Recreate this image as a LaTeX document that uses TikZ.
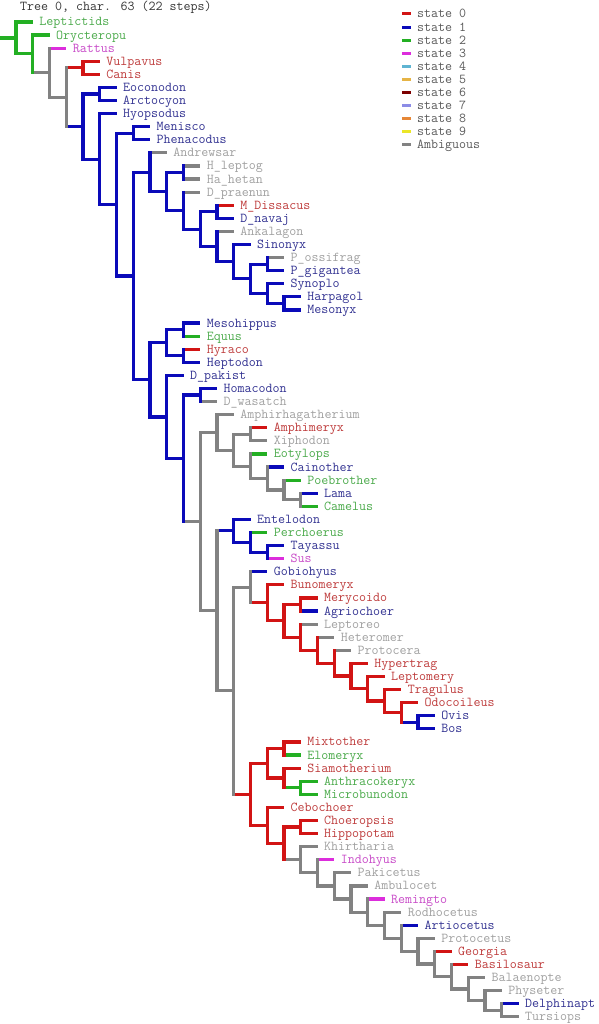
\documentclass[tikz,border=0pt]{standalone}
\usepackage{fontspec}
\usepackage{tikz}
\usetikzlibrary{calc}

\definecolor{st0}{RGB}{210,20,20}
\definecolor{st1}{RGB}{10,10,185}
\definecolor{st2}{RGB}{35,175,35}
\definecolor{st3}{RGB}{220,45,220}
\definecolor{st4}{RGB}{95,180,210}
\definecolor{st5}{RGB}{230,180,70}
\definecolor{st6}{RGB}{125,0,0}
\definecolor{st7}{RGB}{140,140,230}
\definecolor{st8}{RGB}{230,135,55}
\definecolor{st9}{RGB}{235,230,40}
\definecolor{sta}{RGB}{130,130,130}
\definecolor{tx0}{RGB}{190,60,60}
\definecolor{tx1}{RGB}{50,50,145}
\definecolor{tx2}{RGB}{75,170,75}
\definecolor{tx3}{RGB}{200,75,200}
\definecolor{txa}{RGB}{160,160,160}
\definecolor{txk}{RGB}{90,90,90}

% leaf: name, depth of tip, row, state, label
\newcommand\tleaf[5]{%
  \coordinate (#1) at ({16+#2*16.75},{22+(#3-1)*13.09});
  \draw[s#4] ([xshift=-16.75pt]#1) -- (#1);
  \node[lbl,l#4] (t#1) at ([xshift=6.5pt,yshift=-4pt]#1) {#5};
}
% clade: name, depth, first child, last child, state
\newcommand\tnode[5]{%
  \path let \p1=(#3), \p2=(#4) in ({16pt+#2*16.75pt},{0.5*\y1+0.5*\y2}) coordinate (#1);
  \draw[s#5] ([xshift=-16.75pt]#1) -- (#1);
  \draw[s#5,line cap=rect] (#3 -| #1) -- (#4 -| #1);
}

\begin{document}
\begin{tikzpicture}[x=1pt,y=-1pt,font=\ttfamily\fontsize{13.6}{14}\selectfont,
    s0/.style={draw=st0,line width=3.2pt}, s1/.style={draw=st1,line width=3.2pt},
    s2/.style={draw=st2,line width=3.2pt}, s3/.style={draw=st3,line width=3.2pt},
    sa/.style={draw=sta,line width=3.2pt},
    l0/.style={text=tx0}, l1/.style={text=tx1}, l2/.style={text=tx2},
    l3/.style={text=tx3}, la/.style={text=txa},
    lbl/.style={anchor=base west,inner sep=0pt}]
  \useasboundingbox (0,0) rectangle (598,1024);
  \node[lbl,text=txk!60!black] (title) at (20,10.5) {Tree 0, char. 63 (22 steps)};

  \tleaf{lep}{1}{1}{2}{Leptictids}
  \tleaf{ory}{2}{2}{2}{Orycteropu}
  \tleaf{rat}{3}{3}{3}{Rattus}
  \tleaf{vul}{5}{4}{0}{Vulpavus}
  \tleaf{can}{5}{5}{0}{Canis}
  \tnode{vc}{4}{vul}{can}{0}
  \tleaf{eoc}{6}{6}{1}{Eoconodon}
  \tleaf{arc}{6}{7}{1}{Arctocyon}
  \tnode{ea}{5}{eoc}{arc}{1}
  \tleaf{hyo}{6}{8}{1}{Hyopsodus}
  \tleaf{men}{8}{9}{1}{Menisco}
  \tleaf{phe}{8}{10}{1}{Phenacodus}
  \tnode{mp}{7}{men}{phe}{1}
  \tleaf{adw}{9}{11}{a}{Andrewsar}
  \tleaf{hle}{11}{12}{a}{H\_leptog}
  \tleaf{hhe}{11}{13}{a}{Ha\_hetan}
  \tnode{hh}{10}{hle}{hhe}{1}
  \tleaf{dpr}{11}{14}{a}{D\_praenun}
  \tleaf{mdi}{13}{15}{0}{M\_Dissacus}
  \tleaf{dna}{13}{16}{1}{D\_navaj}
  \tnode{md}{12}{mdi}{dna}{1}
  \tleaf{ank}{13}{17}{a}{Ankalagon}
  \tleaf{snx}{14}{18}{1}{Sinonyx}
  \tleaf{pos}{16}{19}{a}{P\_ossifrag}
  \tleaf{pgi}{16}{20}{1}{P\_gigantea}
  \tnode{pp}{15}{pos}{pgi}{1}
  \tleaf{syn}{16}{21}{1}{Synoplo}
  \tleaf{har}{17}{22}{1}{Harpagol}
  \tleaf{mes}{17}{23}{1}{Mesonyx}
  \tnode{hm}{16}{har}{mes}{1}
  \tnode{shm}{15}{syn}{hm}{1}
  \tnode{pps}{14}{pp}{shm}{1}
  \tnode{snxx}{13}{snx}{pps}{1}
  \tnode{ankx}{12}{ank}{snxx}{1}
  \tnode{mdx}{11}{md}{ankx}{1}
  \tnode{dprx}{10}{dpr}{mdx}{1}
  \tnode{hhx}{9}{hh}{dprx}{1}
  \tnode{creo}{8}{adw}{hhx}{1}
  \tleaf{mso}{11}{24}{1}{Mesohippus}
  \tleaf{equ}{11}{25}{2}{Equus}
  \tnode{me}{10}{mso}{equ}{1}
  \tleaf{hyr}{11}{26}{0}{Hyraco}
  \tleaf{hep}{11}{27}{1}{Heptodon}
  \tnode{hy}{10}{hyr}{hep}{1}
  \tnode{peri}{9}{me}{hy}{1}
  \tleaf{dpa}{10}{28}{1}{D\_pakist}
  \tleaf{hom}{12}{29}{1}{Homacodon}
  \tleaf{dwa}{12}{30}{a}{D\_wasatch}
  \tnode{hd}{11}{hom}{dwa}{1}
  \tleaf{amr}{13}{31}{a}{Amphirhagatherium}
  \tleaf{amx}{15}{32}{0}{Amphimeryx}
  \tleaf{xip}{15}{33}{a}{Xiphodon}
  \tnode{ax}{14}{amx}{xip}{a}
  \tleaf{eot}{15}{34}{2}{Eotylops}
  \tleaf{cai}{16}{35}{1}{Cainother}
  \tleaf{poe}{17}{36}{2}{Poebrother}
  \tleaf{lam}{18}{37}{1}{Lama}
  \tleaf{cam}{18}{38}{2}{Camelus}
  \tnode{lc}{17}{lam}{cam}{a}
  \tnode{plc}{16}{poe}{lc}{a}
  \tnode{cpl}{15}{cai}{plc}{a}
  \tnode{ecp}{14}{eot}{cpl}{a}
  \tnode{axe}{13}{ax}{ecp}{a}
  \tnode{ama}{12}{amr}{axe}{a}
  \tleaf{ent}{14}{39}{1}{Entelodon}
  \tleaf{per}{15}{40}{2}{Perchoerus}
  \tleaf{tay}{16}{41}{1}{Tayassu}
  \tleaf{sus}{16}{42}{3}{Sus}
  \tnode{ts}{15}{tay}{sus}{1}
  \tnode{pts}{14}{per}{ts}{1}
  \tnode{suin}{13}{ent}{pts}{1}
  \tleaf{gob}{15}{43}{1}{Gobiohyus}
  \tleaf{bun}{16}{44}{0}{Bunomeryx}
  \tleaf{mer}{18}{45}{0}{Merycoido}
  \tleaf{agr}{18}{46}{1}{Agriochoer}
  \tnode{ma}{17}{mer}{agr}{0}
  \tleaf{lpt}{18}{47}{a}{Leptoreo}
  \tleaf{het}{19}{48}{a}{Heteromer}
  \tleaf{pro}{20}{49}{a}{Protocera}
  \tleaf{hyp}{21}{50}{0}{Hypertrag}
  \tleaf{lpm}{22}{51}{0}{Leptomery}
  \tleaf{tra}{23}{52}{0}{Tragulus}
  \tleaf{odo}{24}{53}{0}{Odocoileus}
  \tleaf{ovi}{25}{54}{1}{Ovis}
  \tleaf{bos}{25}{55}{1}{Bos}
  \tnode{ob}{24}{ovi}{bos}{1}
  \tnode{rum7}{23}{odo}{ob}{0}
  \tnode{rum6}{22}{tra}{rum7}{0}
  \tnode{rum5}{21}{lpm}{rum6}{0}
  \tnode{rum4}{20}{hyp}{rum5}{0}
  \tnode{rum3}{19}{pro}{rum4}{0}
  \tnode{rum2}{18}{het}{rum3}{0}
  \tnode{rum1}{17}{lpt}{rum2}{0}
  \tnode{tylo}{16}{ma}{rum1}{0}
  \tnode{bunx}{15}{bun}{tylo}{0}
  \tnode{gobx}{14}{gob}{bunx}{a}
  \tleaf{mix}{17}{56}{0}{Mixtother}
  \tleaf{elo}{17}{57}{2}{Elomeryx}
  \tnode{mxe}{16}{mix}{elo}{0}
  \tleaf{sia}{17}{58}{0}{Siamotherium}
  \tleaf{ant}{18}{59}{2}{Anthracokeryx}
  \tleaf{mic}{18}{60}{2}{Microbunodon}
  \tnode{am}{17}{ant}{mic}{2}
  \tnode{sam}{16}{sia}{am}{0}
  \tnode{anth}{15}{mxe}{sam}{0}
  \tleaf{ceb}{16}{61}{0}{Cebochoer}
  \tleaf{cho}{18}{62}{0}{Choeropsis}
  \tleaf{hip}{18}{63}{0}{Hippopotam}
  \tnode{hippo}{17}{cho}{hip}{0}
  \tleaf{khi}{18}{64}{a}{Khirtharia}
  \tleaf{ind}{19}{65}{3}{Indohyus}
  \tleaf{pak}{20}{66}{a}{Pakicetus}
  \tleaf{amb}{21}{67}{a}{Ambulocet}
  \tleaf{rem}{22}{68}{3}{Remingto}
  \tleaf{rod}{23}{69}{a}{Rodhocetus}
  \tleaf{art}{24}{70}{1}{Artiocetus}
  \tleaf{prc}{25}{71}{a}{Protocetus}
  \tleaf{geo}{26}{72}{0}{Georgia}
  \tleaf{bas}{27}{73}{0}{Basilosaur}
  \tleaf{bal}{28}{74}{a}{Balaenopte}
  \tleaf{phy}{29}{75}{a}{Physeter}
  \tleaf{del}{30}{76}{1}{Delphinapt}
  \tleaf{tur}{30}{77}{a}{Tursiops}
  \tnode{cet12}{29}{del}{tur}{a}
  \tnode{cet11}{28}{phy}{cet12}{a}
  \tnode{cet10}{27}{bal}{cet11}{a}
  \tnode{cet9}{26}{bas}{cet10}{a}
  \tnode{cet8}{25}{geo}{cet9}{a}
  \tnode{cet7}{24}{prc}{cet8}{a}
  \tnode{cet6}{23}{art}{cet7}{a}
  \tnode{cet5}{22}{rod}{cet6}{a}
  \tnode{cet4}{21}{rem}{cet5}{a}
  \tnode{cet3}{20}{amb}{cet4}{a}
  \tnode{cet2}{19}{pak}{cet3}{a}
  \tnode{cet1}{18}{ind}{cet2}{a}
  \tnode{cet0}{17}{khi}{cet1}{a}
  \tnode{whip}{16}{hippo}{cet0}{0}
  \tnode{cebx}{15}{ceb}{whip}{0}
  \tnode{ancet}{14}{anth}{cebx}{0}
  \tnode{bx}{13}{gobx}{ancet}{a}
  \tnode{sb}{12}{suin}{bx}{a}
  \tnode{artio}{11}{ama}{sb}{a}
  \tnode{hdx}{10}{hd}{artio}{1}
  \tnode{dpx}{9}{dpa}{hdx}{1}
  \tnode{ung}{8}{peri}{dpx}{1}
  \tnode{cu}{7}{creo}{ung}{1}
  \tnode{mpx}{6}{mp}{cu}{1}
  \tnode{hyx}{5}{hyo}{mpx}{1}
  \tnode{eax}{4}{ea}{hyx}{1}
  \tnode{vcx}{3}{vc}{eax}{a}
  \tnode{ratx}{2}{rat}{vcx}{a}
  \tnode{oryx}{1}{ory}{ratx}{2}
  \tnode{root}{0}{lep}{oryx}{2}

  % legend
  \draw[draw=st0,line width=3pt] (402,14) -- (411,14);
  \draw[draw=st1,line width=3pt] (402,27.1) -- (411,27.1);
  \draw[draw=st2,line width=3pt] (402,40.2) -- (411,40.2);
  \draw[draw=st3,line width=3pt] (402,53.3) -- (411,53.3);
  \draw[draw=st4,line width=3pt] (402,66.4) -- (411,66.4);
  \draw[draw=st5,line width=3pt] (402,79.5) -- (411,79.5);
  \draw[draw=st6,line width=3pt] (402,92.6) -- (411,92.6);
  \draw[draw=st7,line width=3pt] (402,105.7) -- (411,105.7);
  \draw[draw=st8,line width=3pt] (402,118.8) -- (411,118.8);
  \draw[draw=st9,line width=3pt] (402,131.9) -- (411,131.9);
  \draw[draw=sta,line width=3pt] (402,145) -- (411,145);
  \node[lbl,text=txk] (k0) at (417,18) {state 0};
  \node[lbl,text=txk] (k1) at (417,31.1) {state 1};
  \node[lbl,text=txk] (k2) at (417,44.2) {state 2};
  \node[lbl,text=txk] (k3) at (417,57.3) {state 3};
  \node[lbl,text=txk] (k4) at (417,70.4) {state 4};
  \node[lbl,text=txk] (k5) at (417,83.5) {state 5};
  \node[lbl,text=txk] (k6) at (417,96.6) {state 6};
  \node[lbl,text=txk] (k7) at (417,109.7) {state 7};
  \node[lbl,text=txk] (k8) at (417,122.8) {state 8};
  \node[lbl,text=txk] (k9) at (417,135.9) {state 9};
  \node[lbl,text=txk] (ka) at (417,149) {Ambiguous};
\end{tikzpicture}
\end{document}
